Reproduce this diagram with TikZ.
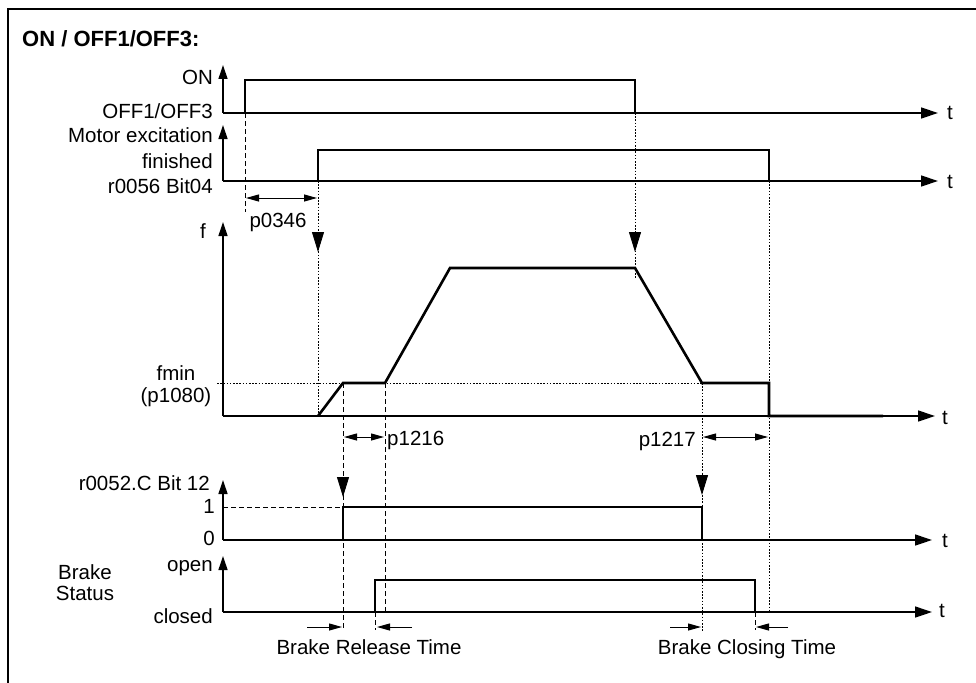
\documentclass[tikz,border=0pt]{standalone}
\usepackage{fontspec}
\setmainfont{Liberation Sans}
\usetikzlibrary{arrows.meta}

\begin{document}
\begin{tikzpicture}[
    x=1pt, y=1pt,
    axis/.style={line width=1.3pt, -{Triangle[length=17pt, width=11pt]}},
    yaxis/.style={line width=1.3pt, -{Triangle[length=14pt, width=9pt]}},
    signal/.style={line width=2.6pt, line join=miter},
    dots/.style={line width=0.9pt, dash pattern=on 1.6pt off 1.6pt},
    dashes/.style={line width=0.9pt, dash pattern=on 5pt off 3pt},
    marker/.style={line width=0.9pt, -{Triangle[length=20pt, width=12pt]}},
    span/.style={line width=1pt, {Triangle[length=13pt, width=7pt]}-{Triangle[length=13pt, width=7pt]}},
    pointer/.style={line width=1pt, -{Triangle[length=13pt, width=7pt]}},
    lbl/.style={font=\fontsize{20.5}{21}\selectfont, inner sep=0pt}
]
\useasboundingbox (0,0) rectangle (976,-682);

% === Rahmen ===
\draw[line width=2.5pt] (8,-700) -- (8,-9) -- (990,-9);
\node[font=\bfseries\fontsize{22}{24}\selectfont, inner sep=0pt, anchor=base west] (title) at (22,-47) {ON / OFF1/OFF3:};

% === ON / OFF1/OFF3 ===
\draw[yaxis] (223,-113) -- (223,-65);
\draw[axis] (223,-113) -- (938,-113);
\draw[signal] (223,-113) -- (245,-113) -- (245,-80) -- (635,-80) -- (635,-113) -- (812,-113);
\node[lbl, anchor=base east] (on) at (213,-85) {ON};
\node[lbl, anchor=base east] (off) at (213,-118) {OFF1/OFF3};
\node[lbl, anchor=base west] (t1) at (947,-119) {t};

% === Motor excitation finished ===
\draw[yaxis] (223,-181) -- (223,-125);
\draw[axis] (223,-181) -- (938,-181);
\draw[signal] (223,-181) -- (318,-181) -- (318,-150) -- (769,-150) -- (769,-181) -- (883,-181);
\node[lbl, anchor=base east] (exc) at (213,-142) {Motor excitation};
\node[lbl, anchor=base east] (fin) at (213,-168) {finished};
\node[lbl, anchor=base east] (bit04) at (213,-193) {r0056 Bit04};
\node[lbl, anchor=base west] (t2) at (947,-188) {t};

% p0346
\draw[dashes] (245,-113) -- (245,-212);
\draw[span] (246,-198) -- (317,-198);
\node[lbl, anchor=base] (p0346) at (278,-227) {p0346};

% === Frequenz ===
\draw[yaxis] (223,-416) -- (223,-222);
\draw[axis] (223,-416) -- (935,-416);
\draw[dots] (217,-383) -- (702,-383);
\draw[signal] (318,-416) -- (343,-383) -- (385,-383) -- (450,-268) -- (635,-268)
    -- (702,-383) -- (769,-383) -- (769,-416) -- (883,-416);
\node[lbl, anchor=base east] (f) at (206,-238) {f};
\node[lbl, align=center, anchor=base] (fmin) at (176,-402) {fmin\\[1pt](p1080)};
\node[lbl, anchor=base west] (t3) at (942,-424) {t};

% Zeitmarken
\draw[dots] (318,-181) -- (318,-416);
\draw[marker] (318,-232) -- (318,-252);
\draw[dots] (635,-113) -- (635,-278);
\draw[marker] (635,-232) -- (635,-252);

% p1216 / p1217
\draw[dashes] (343,-383) -- (343,-628);
\draw[dashes] (385,-383) -- (385,-612);
\draw[dots] (702,-383) -- (702,-632);
\draw[dots] (769,-181) -- (769,-612);
\draw[span] (344,-437) -- (384,-437);
\draw[span] (703,-437) -- (768,-437);
\node[lbl, anchor=base west] (p1216) at (387,-445) {p1216};
\node[lbl, anchor=base east] (p1217) at (696,-446) {p1217};

% === r0052.C Bit 12 ===
\draw[yaxis] (223,-540) -- (223,-480);
\draw[axis] (223,-540) -- (932,-540);
\draw[dashes] (223,-507) -- (343,-507);
\draw[signal] (223,-540) -- (343,-540) -- (343,-507) -- (702,-507) -- (702,-540) -- (865,-540);
\draw[marker] (343,-477) -- (343,-497);
\draw[marker] (702,-474) -- (702,-495);
\node[lbl, anchor=base east] (bit12) at (210,-490) {r0052.C Bit 12};
\node[lbl, anchor=base east] (one) at (215,-513) {1};
\node[lbl, anchor=base east] (zero) at (215,-545) {0};
\node[lbl, anchor=base west] (t4) at (942,-547) {t};

% === Bremse ===
\draw[yaxis] (223,-612) -- (223,-556);
\draw[axis] (223,-612) -- (932,-612);
\draw[signal] (223,-612) -- (375,-612) -- (375,-580) -- (755,-580) -- (755,-612);
\node[lbl, anchor=base east] (open) at (213,-571) {open};
\node[lbl, anchor=base east] (closed) at (213,-623) {closed};
\node[lbl, align=center, anchor=base] (brake) at (85,-600) {Brake\\Status};
\node[lbl, anchor=base west] (t5) at (939,-617) {t};

% Lueft- und Schliesszeit
\draw[dashes] (375,-612) -- (375,-630);
\draw[dashes] (755,-612) -- (755,-630);
\draw[pointer] (307,-627) -- (342,-627);
\draw[pointer] (412,-627) -- (377,-627);
\draw[pointer] (670,-627) -- (701,-627);
\draw[pointer] (788,-627) -- (756,-627);
\node[lbl, anchor=base] (release) at (369,-654) {Brake Release Time};
\node[lbl, anchor=base] (closing) at (747,-654) {Brake Closing Time};

\end{tikzpicture}
\end{document}
